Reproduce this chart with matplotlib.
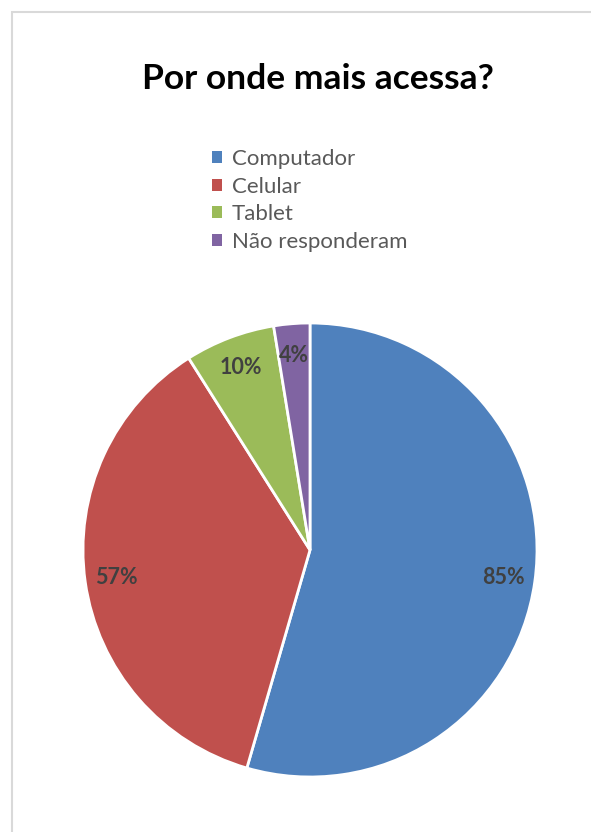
import matplotlib

matplotlib.use("Agg")

import matplotlib.pyplot as plt
from matplotlib.patches import Patch, Rectangle

plt.rcParams["font.family"] = ["Lato", "DejaVu Sans"]

categories = ["Computador", "Celular", "Tablet", "Não responderam"]
values = [85, 57, 10, 4]
colors = ["#4F81BD", "#C0504D", "#9BBB59", "#8064A2"]

W, H = 591, 832
fig = plt.figure(figsize=(W / 100, H / 100), dpi=100)

# light chart-area border (runs off the right and bottom edges)
fig.patches.append(
    Rectangle(
        (11.5 / W, -0.1),
        1.2,
        1.1 - 11.5 / H,
        transform=fig.transFigure,
        fill=False,
        edgecolor="#d9d9d9",
        linewidth=1.5,
    )
)

fig.text(
    318 / W,
    1 - 79 / H,
    "Por onde mais acessa?",
    ha="center",
    va="center",
    fontsize=25.5,
    fontweight="bold",
    color="black",
)

# pie, centred at (310, 550) px with radius 227 px
r = 227
ax = fig.add_axes([(310 - r) / W, (H - 550 - r) / H, 2 * r / W, 2 * r / H])

wedges, texts = ax.pie(
    values,
    colors=colors,
    startangle=90,
    counterclock=False,
    labels=[f"{v}%" for v in values],
    labeldistance=0.86,
    wedgeprops={"edgecolor": "white", "linewidth": 2},
    textprops={"fontsize": 15.5, "fontweight": "bold", "color": "#404040"},
)
for t in texts:
    t.set_ha("center")
    t.set_va("center")
ax.set_xlim(-1, 1)
ax.set_ylim(-1, 1)
ax.set_aspect("equal")
ax.axis("off")

handles = [Patch(facecolor=c, edgecolor="none", label=lab) for c, lab in zip(colors, categories)]
fig.legend(
    handles=handles,
    loc="upper left",
    bbox_to_anchor=(201 / W, 1 - 138 / H),
    frameon=False,
    fontsize=16,
    handlelength=0.45,
    handleheight=0.45,
    handletextpad=0.45,
    labelspacing=0.34,
    labelcolor="#595959",
    borderpad=0,
)

fig.savefig("out.png", dpi=100, facecolor="white")
